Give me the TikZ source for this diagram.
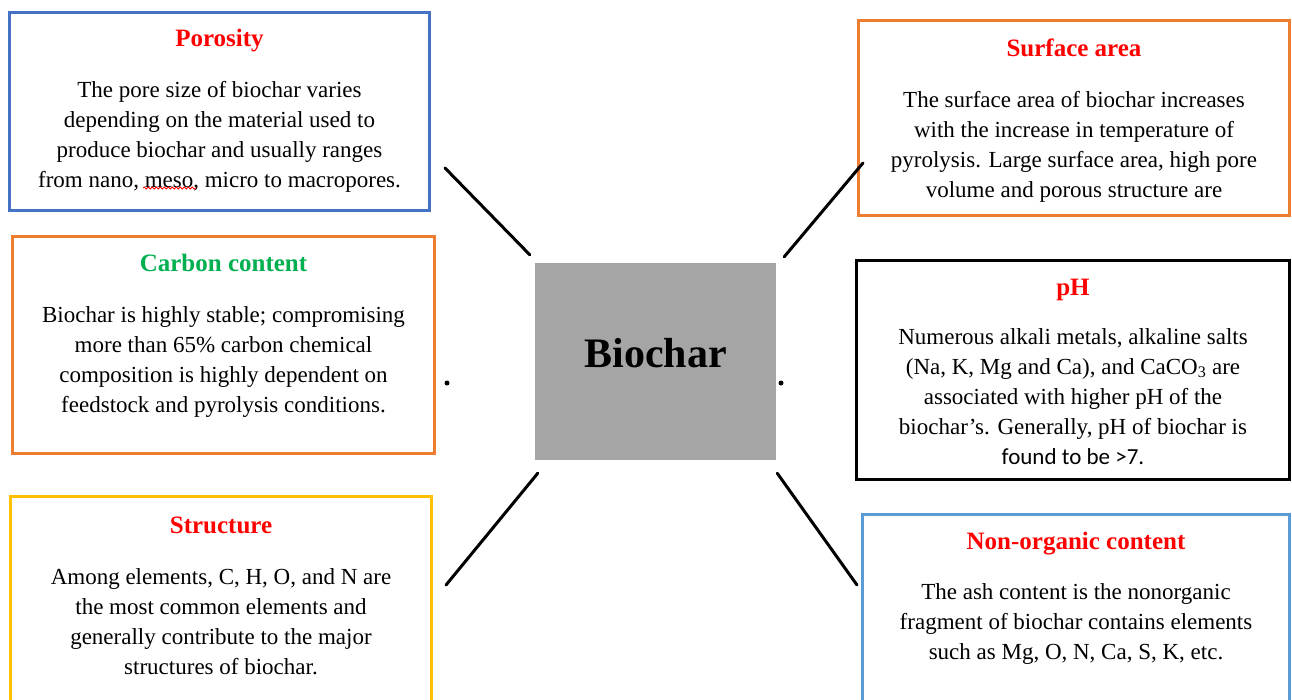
\documentclass[tikz,border=0pt]{standalone}
\usepackage{fontspec}
\setmainfont{Liberation Serif}
\newfontfamily\calibrifont{Carlito}
\usetikzlibrary{positioning, decorations.pathmorphing}

\definecolor{poroblue}{HTML}{4472C4}
\definecolor{carborange}{HTML}{ED7D31}
\definecolor{structgold}{HTML}{FFC000}
\definecolor{ashblue}{HTML}{5B9BD5}
\definecolor{hubgray}{HTML}{A5A5A5}
\definecolor{headred}{HTML}{FF0000}
\definecolor{headgreen}{HTML}{00B050}

\begin{document}
\begin{tikzpicture}[
    x=1pt, y=-1pt,
    card/.style={draw, line width=2.8pt, inner sep=0pt},
    head/.style={font=\fontsize{25}{30}\selectfont\bfseries, text=headred,
                 inner sep=0pt},
    desc/.style={font=\fontsize{23}{30}\selectfont, align=center, inner sep=0pt},
    hub/.style={fill=hubgray, inner sep=0pt, minimum width=241pt,
                minimum height=197pt},
    link/.style={line width=3pt, line cap=round},
    dot/.style={circle, fill, inner sep=0pt, minimum size=5pt},
    squiggle/.style={draw=headred, line width=0.8pt, decorate,
                     decoration={snake, amplitude=1pt, segment length=4pt}}
  ]
  \useasboundingbox (0,0) rectangle (1292,699);
  \clip (0,0) rectangle (1292,699);

  % Centre box
  \node[hub] (biochar) at (655.5,361.5) {};
  \node[font=\fontsize{42}{48}\selectfont\bfseries, inner sep=0pt]
    (hubtext) at ([yshift=8pt]biochar.center) {Biochar};

  % Left column
  \node[card, draw=poroblue, minimum width=420pt, minimum height=198pt]
    (poro) at (219.5,111.5) {};
  \node[head, below=18pt of poro.north] (poroHead) {Porosity};
  \node[desc, below=70pt of poro.north] (poroText)
    {The pore size of biochar varies\\
     depending on the material used to\\
     produce biochar and usually ranges\\
     from nano, meso, micro to macropores.};

  \node[card, draw=carborange, minimum width=422pt, minimum height=217pt]
    (carb) at (223.5,345) {};
  \node[head, text=headgreen, below=19pt of carb.north] (carbHead) {Carbon content};
  \node[desc, below=71pt of carb.north] (carbText)
    {Biochar is highly stable; compromising\\
     more than 65\% carbon chemical\\
     composition is highly dependent on\\
     feedstock and pyrolysis conditions.};

  \node[card, draw=structgold, minimum width=421pt, minimum height=263.5pt]
    (struct) at (221,628.25) {};
  \node[head, below=22pt of struct.north] (structHead) {Structure};
  \node[desc, below=73pt of struct.north] (structText)
    {Among elements, C, H, O, and N are\\
     the most common elements and\\
     generally contribute to the major\\
     structures of biochar.};

  % Right column
  \node[card, draw=carborange, minimum width=431pt, minimum height=195pt]
    (surf) at (1074,118) {};
  \node[head, below=20pt of surf.north] (surfHead) {Surface area};
  \node[desc, below=72pt of surf.north] (surfText)
    {The surface area of biochar increases\\
     with the increase in temperature of\\
     pyrolysis. Large surface area, high pore\\
     volume and porous structure are};

  \node[card, draw=black, minimum width=433pt, minimum height=219pt]
    (ph) at (1073,370) {};
  \node[head, below=20pt of ph.north] (phHead) {pH};
  \node[desc, below=69pt of ph.north] (phText)
    {Numerous alkali metals, alkaline salts\\
     (Na, K, Mg and Ca), and CaCO\textsubscript{3} are\\
     associated with higher pH of the\\
     biochar’s. Generally, pH of biochar is\\
     {\calibrifont found to be >7.}};

  \node[card, draw=ashblue, minimum width=427pt, minimum height=245.5pt]
    (ash) at (1076,637.25) {};
  \node[head, below=19pt of ash.north] (ashHead) {Non-organic content};
  \node[desc, below=70pt of ash.north] (ashText)
    {The ash content is the nonorganic\\
     fragment of biochar contains elements\\
     such as Mg, O, N, Ca, S, K, etc.};

  % spell-check mark under "meso"
  \coordinate (waveA) at (143,188);
  \coordinate (waveB) at (196,188);
  \draw[squiggle] (waveA) -- (waveB);

  % Spokes
  \coordinate (poroTip)   at (445,168);
  \coordinate (surfTip)   at (863,163);
  \coordinate (structTip) at (446,585);
  \coordinate (ashTip)    at (857,585);
  \coordinate (hubNW) at ([shift={(-5,-8)}]biochar.north west);
  \coordinate (hubNE) at ([shift={(8,-6)}]biochar.north east);
  \coordinate (hubSW) at ([shift={(3,13)}]biochar.south west);
  \coordinate (hubSE) at ([shift={(1,13)}]biochar.south east);

  \draw[link] (poroTip) -- (hubNW);
  \draw[link] (hubNE) -- (surfTip);
  \draw[link] (hubSW) -- (structTip);
  \draw[link] (hubSE) -- (ashTip);

  % stray dots
  \node[dot] (dotL) at (447,383) {};
  \node[dot] (dotR) at (781,383) {};

\end{tikzpicture}
\end{document}
